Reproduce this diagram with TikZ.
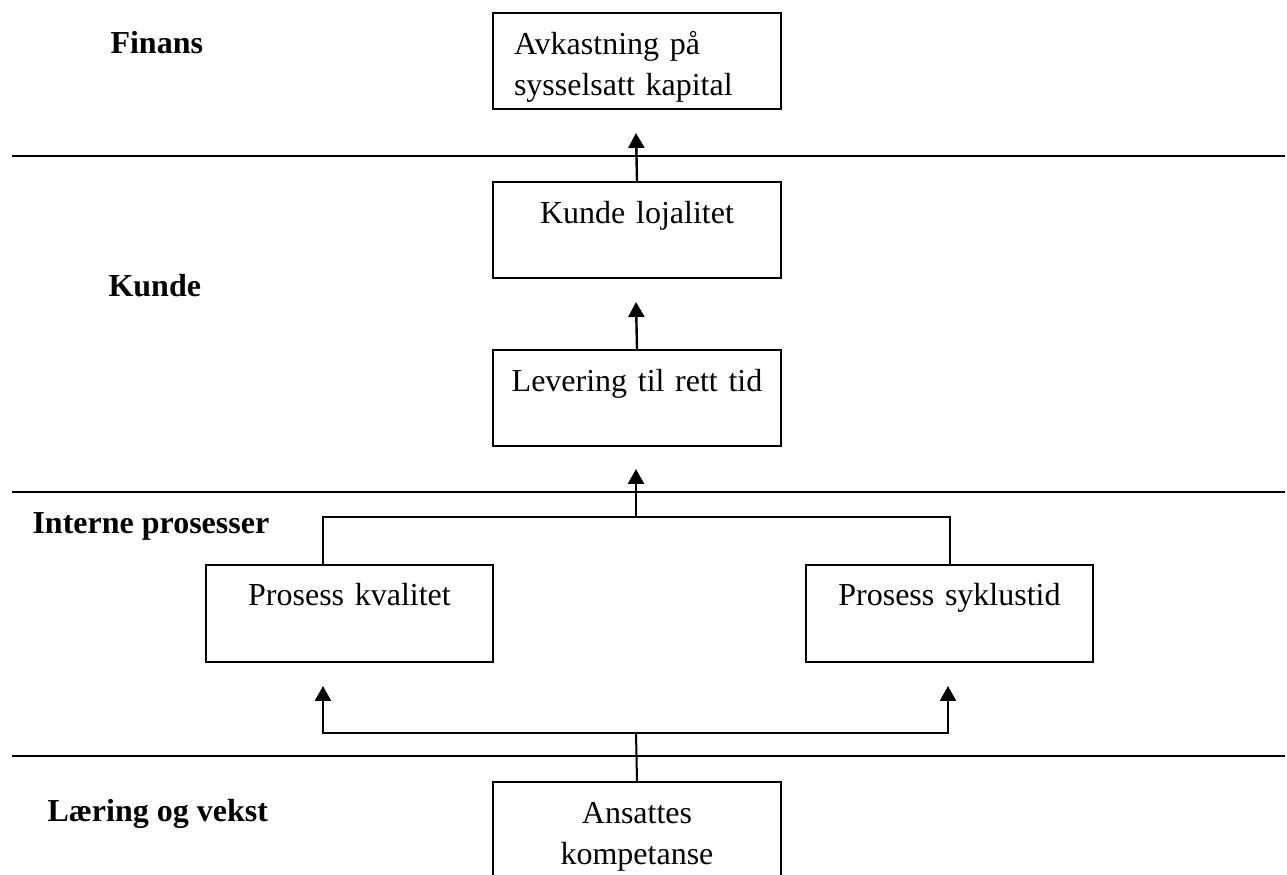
\documentclass[tikz,border=0pt]{standalone}
\usepackage{fontspec}
\setmainfont{Liberation Serif}
\usetikzlibrary{arrows.meta,calc}
\begin{document}
\begin{tikzpicture}[x=0.375pt,y=-0.375pt,
  txt/.style={font=\fontsize{12}{15.4}\selectfont},
  box/.style={txt,draw,line width=0.75pt,inner sep=0pt,anchor=north west,
    text width=108pt,align=center,text height=15.375pt,text depth=20.625pt},
  pbox/.style={box,text width=107.625pt,text height=15pt,text depth=21.375pt},
  perspective/.style={font=\fontsize{12}{15.4}\selectfont\bfseries,anchor=base west,inner sep=0pt},
  separator/.style={line width=0.75pt},
  conn/.style={line width=0.75pt},
  arr/.style={line width=0.9pt,-{Triangle[length=5.6pt,width=6pt]}}
]
\useasboundingbox (0,0) rectangle (1287,874);
\clip (0,0) rectangle (1287,874);

% perspective separators
\draw[separator] (12,156) -- (1285,156);
\draw[separator] (12,492) -- (1285,492);
\draw[separator] (12,756) -- (1285,756);

% perspective labels
\node[perspective] (lfin) at (110,53) {Finans};
\node[perspective] (lkun) at (108,296) {Kunde};
\node[perspective] (lint) at (32,533) {Interne prosesser};
\node[perspective] (llae) at (47,821) {Læring og vekst};

% measures
\node[box,align=left,inner xsep=7.875pt,text width=92.25pt] (fin) at (492,12)
  {Avkastning på\\sysselsatt kapital};
\node[box] (kun) at (492,181) {Kunde lojalitet};
\node[box] (lev) at (492,349) {Levering til rett tid};
\node[pbox] (pk) at (205,564) {Prosess kvalitet};
\node[pbox] (ps) at (805,564) {Prosess syklustid};
\node[box,text depth=29.625pt] (ans) at (492,781) {Ansattes\\kompetanse};

% cause-and-effect links
\coordinate (t1) at (636,133);
\coordinate (t2) at (636,302);
\coordinate (up) at (636,517);
\coordinate (t3) at (636,469);
\coordinate (down) at (636,733);
\coordinate (tl) at (323,686);
\coordinate (tr) at (948,686);

\draw[arr] (kun.north) -- (t1);
\draw[arr] (lev.north) -- (t2);
\draw[conn] ($(pk.north west)+(118,0)$) |- (up) -| (ps.north);
\draw[arr] (up) -- (t3);
\draw[conn] (ans.north) -- (down);
\draw[arr] (down) -| (tl);
\draw[arr] (down) -| (tr);
\end{tikzpicture}
\end{document}
